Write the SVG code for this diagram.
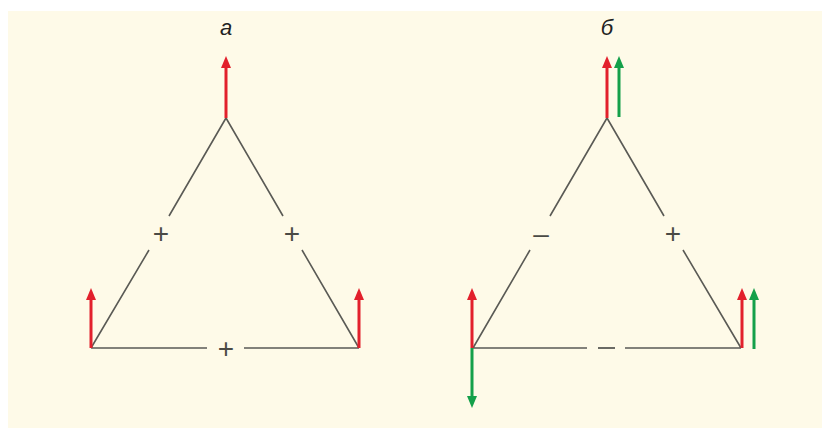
<svg xmlns="http://www.w3.org/2000/svg" width="822" height="428" viewBox="0 0 822 428">
<defs>
<style>
.edge{stroke:#5a5a55;stroke-width:1.6;fill:none}
.sign{font-family:"Liberation Sans",Arial,sans-serif;font-size:28px;fill:#4a4a45;text-anchor:middle}
.title{font-family:"Liberation Sans",Arial,sans-serif;font-size:22px;font-style:italic;fill:#222;text-anchor:middle}
.r{fill:#e2202c}
.g{fill:#14a04a}
.rs{stroke:#e2202c;stroke-width:3}
.gs{stroke:#14a04a;stroke-width:3}
</style>
</defs>
<rect x="0" y="0" width="822" height="428" fill="#ffffff"/>
<rect x="8" y="11" width="814" height="417" fill="#fefae8"/>
<g id="title-a"><text class="title" x="226" y="35">а</text></g>
<g id="title-b"><text class="title" x="607" y="35">б</text></g>
<g id="connectors">
<path class="edge" d="M226,118 L169,216 M149,250 L91,348 M226,118 L283,216 M302,250 L359,348 M91,348 L207,348 M244,348 L359,348"/>
<path class="edge" d="M607,118 L550,216 M530,250 L473,348 M607,118 L664,216 M683,250 L741,348 M473,348 L587,348 M625,348 L741,348"/>
<path d="M598,348 L615,348" stroke="#5a5a55" stroke-width="1.8"/>
</g>
<g id="signs">
<text class="sign" x="161" y="243">+</text>
<text class="sign" x="292" y="243">+</text>
<text class="sign" x="226" y="358">+</text>
<text class="sign" x="541" y="243">–</text>
<text class="sign" x="673" y="243">+</text>
</g>
<g id="arrows">
<g id="a-apex"><line class="rs" x1="226" y1="118" x2="226" y2="66"/><path class="r" d="M221,68 L226,56 L231,68 Z"/></g>
<g id="a-left"><line class="rs" x1="91" y1="348" x2="91" y2="298"/><path class="r" d="M86,300 L91,288 L96,300 Z"/></g>
<g id="a-right"><line class="rs" x1="359" y1="348" x2="359" y2="298"/><path class="r" d="M354,300 L359,288 L364,300 Z"/></g>
<g id="b-apex"><line class="rs" x1="607" y1="118" x2="607" y2="66"/><path class="r" d="M602,68 L607,56 L612,68 Z"/><line class="gs" x1="619" y1="117" x2="619" y2="66"/><path class="g" d="M614,68 L619,56 L624,68 Z"/></g>
<g id="b-left"><line class="rs" x1="472" y1="348" x2="472" y2="298"/><path class="r" d="M467,300 L472,288 L477,300 Z"/><line class="gs" x1="472" y1="348" x2="472" y2="398"/><path class="g" d="M467,396 L472,408 L477,396 Z"/></g>
<g id="b-right"><line class="rs" x1="742" y1="348" x2="742" y2="298"/><path class="r" d="M737,300 L742,288 L747,300 Z"/><line class="gs" x1="754" y1="349" x2="754" y2="298"/><path class="g" d="M749,300 L754,288 L759,300 Z"/></g>
</g>
</svg>
